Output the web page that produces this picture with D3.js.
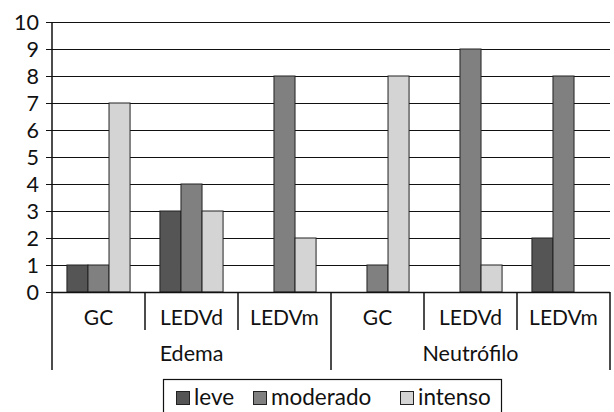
<!DOCTYPE html>
<head>
  <meta charset="utf-8">
  <style>
    body { margin: 0; background: #fff; }
    text { font-family: 'Lato', 'DejaVu Sans', sans-serif; fill: #111; }
  </style>
</head>
<body>
  <script src="https://cdn.jsdelivr.net/npm/d3@7"></script>
  <script>
    // data
    const groups = ["Edema", "Neutrófilo"];
    const categories = ["GC", "LEDVd", "LEDVm"];
    const series = ["leve", "moderado", "intenso"];
    const colors = ["#555555", "#808080", "#d4d4d4"];
    const leve     = [1, 3, 0, 0, 0, 2];
    const moderado = [1, 4, 8, 1, 9, 8];
    const intenso  = [7, 3, 2, 8, 1, 0];
    const yTicks = [0, 1, 2, 3, 4, 5, 6, 7, 8, 9, 10];

    const width = 614, height = 412;
    const plot = {left: 52, right: 610, top: 22, bottom: 292};

    const svg = d3.select("body").append("svg")
      .attr("width", width).attr("height", height);

    // one slot per (group, category)
    const slots = [];
    groups.forEach(g => categories.forEach(c => slots.push(g + "|" + c)));
    const values = [leve, moderado, intenso];

    const x = d3.scaleBand().domain(slots).range([plot.left, plot.right]);
    const xs = d3.scaleBand().domain(series).range([0, x.bandwidth()]).paddingOuter(0.71);
    const y = d3.scaleLinear().domain([0, 10]).range([plot.bottom, plot.top]);

    // gridlines
    svg.append("g").selectAll("line").data(yTicks).enter().append("line")
      .attr("x1", plot.left - 6).attr("x2", plot.right)
      .attr("y1", d => y(d) + 0.5).attr("y2", d => y(d) + 0.5)
      .attr("stroke", "#111").attr("stroke-width", 1.2);

    // y tick labels
    svg.append("g").selectAll("text").data(yTicks).enter().append("text")
      .attr("x", plot.left - 13).attr("y", d => y(d) + 7.5)
      .attr("text-anchor", "end").attr("font-size", 21.5)
      .text(d => d);

    // bars
    series.forEach((s, si) => {
      svg.append("g").selectAll("rect").data(slots).enter().append("rect")
        .filter((d, i) => values[si][i] > 0)
        .attr("x", d => x(d) + xs(s))
        .attr("width", xs.bandwidth())
        .attr("y", d => y(values[si][slots.indexOf(d)]))
        .attr("height", d => plot.bottom - y(values[si][slots.indexOf(d)]))
        .attr("fill", colors[si])
        .attr("stroke", "#222").attr("stroke-width", 1);
    });

    // axes lines
    const ax = svg.append("g").attr("stroke", "#111").attr("stroke-width", 1.5);
    ax.append("line").attr("x1", plot.left).attr("x2", plot.left)
      .attr("y1", plot.top).attr("y2", 370);
    ax.append("line").attr("x1", plot.left).attr("x2", plot.right)
      .attr("y1", plot.bottom + 0.5).attr("y2", plot.bottom + 0.5);

    // category dividers
    slots.forEach((d, i) => {
      if (i === 0) return;
      const long = (i % categories.length === 0);
      ax.append("line").attr("x1", x(d)).attr("x2", x(d))
        .attr("y1", plot.bottom).attr("y2", long ? 370 : 330);
    });
    ax.append("line").attr("x1", plot.right).attr("x2", plot.right)
      .attr("y1", plot.bottom).attr("y2", 370);

    // category labels
    svg.append("g").selectAll("text").data(slots).enter().append("text")
      .attr("x", d => x(d) + x.bandwidth() / 2).attr("y", 325)
      .attr("text-anchor", "middle").attr("font-size", 21)
      .text(d => d.split("|")[1]);

    // group labels
    svg.append("g").selectAll("text").data(groups).enter().append("text")
      .attr("x", (g, gi) => x(slots[gi * 3]) + x.bandwidth() * 1.5).attr("y", 361)
      .attr("text-anchor", "middle").attr("font-size", 21.5)
      .text(d => d);

    // legend
    const lg = svg.append("g");
    lg.append("rect").attr("x", 163.5).attr("y", 379.5).attr("width", 338).attr("height", 50)
      .attr("fill", "none").attr("stroke", "#111").attr("stroke-width", 1.2);
    const lx = [176, 253, 400];
    series.forEach((s, si) => {
      lg.append("rect").attr("x", lx[si] + 0.5).attr("y", 391.5).attr("width", 13).attr("height", 13)
        .attr("fill", colors[si]).attr("stroke", "#222");
      lg.append("text").attr("x", lx[si] + 18).attr("y", 405)
        .attr("font-size", 22.5).text(s);
    });
  </script>
</body>
